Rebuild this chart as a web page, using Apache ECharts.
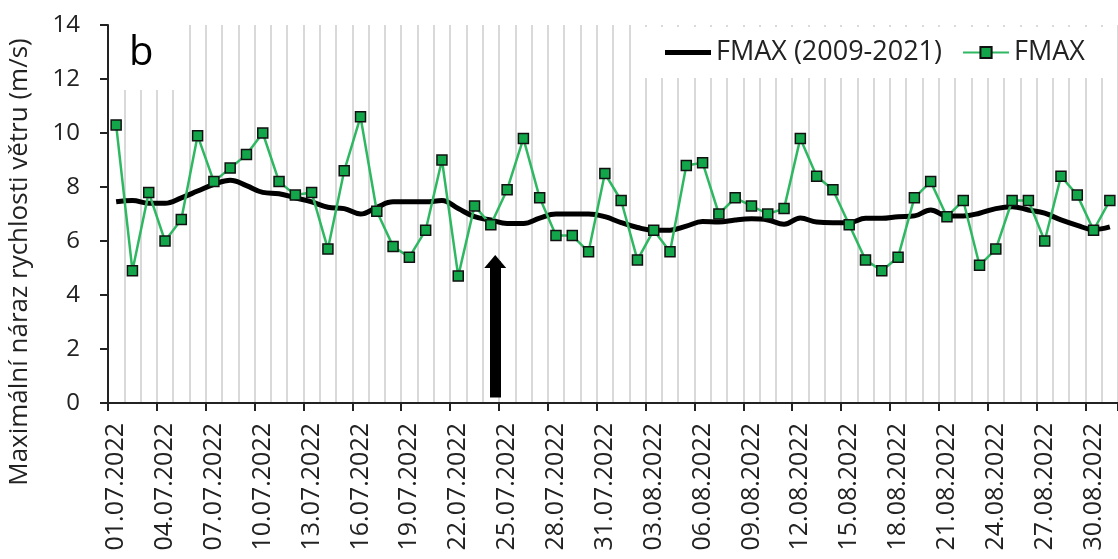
<!DOCTYPE html>
<html><head><meta charset="utf-8">
<script src="https://cdn.jsdelivr.net/npm/echarts@6/dist/echarts.min.js"></script>
<style>html,body{margin:0;padding:0;background:#fff}#c{width:1118px;height:559px}</style>
</head><body><div id="c"></div>
<script>
const categories = [
'01.07.2022','02.07.2022','03.07.2022','04.07.2022','05.07.2022','06.07.2022','07.07.2022','08.07.2022','09.07.2022','10.07.2022',
'11.07.2022','12.07.2022','13.07.2022','14.07.2022','15.07.2022','16.07.2022','17.07.2022','18.07.2022','19.07.2022','20.07.2022',
'21.07.2022','22.07.2022','23.07.2022','24.07.2022','25.07.2022','26.07.2022','27.07.2022','28.07.2022','29.07.2022','30.07.2022',
'31.07.2022','01.08.2022','02.08.2022','03.08.2022','04.08.2022','05.08.2022','06.08.2022','07.08.2022','08.08.2022','09.08.2022',
'10.08.2022','11.08.2022','12.08.2022','13.08.2022','14.08.2022','15.08.2022','16.08.2022','17.08.2022','18.08.2022','19.08.2022',
'20.08.2022','21.08.2022','22.08.2022','23.08.2022','24.08.2022','25.08.2022','26.08.2022','27.08.2022','28.08.2022','29.08.2022',
'30.08.2022','31.08.2022'];

// FMAX (2009-2021) long-term curve
const fmaxNormal = [
7.45,7.5,7.4,7.4,7.6,7.85,8.1,8.25,8.05,7.8,
7.75,7.6,7.45,7.25,7.2,7.0,7.25,7.45,7.45,7.45,
7.5,7.2,6.9,6.78,6.65,6.65,6.85,7.0,7.0,7.0,
6.9,6.68,6.5,6.4,6.4,6.55,6.72,6.7,6.78,6.82,
6.78,6.62,6.85,6.7,6.68,6.68,6.84,6.84,6.9,6.93,
7.15,6.93,6.93,7.03,7.2,7.27,7.15,7.03,6.78,6.58,
6.42,6.52];

// FMAX 2022
const fmax = [
10.3,4.9,7.8,6.0,6.8,9.9,8.2,8.7,9.2,10.0,
8.2,7.7,7.8,5.7,8.6,10.6,7.1,5.8,5.4,6.4,
9.0,4.7,7.3,6.6,7.9,9.8,7.6,6.2,6.2,5.6,
8.5,7.5,5.3,6.4,5.6,8.8,8.9,7.0,7.6,7.3,
7.0,7.2,9.8,8.4,7.9,6.6,5.3,4.9,5.4,7.6,
8.2,6.9,7.5,5.1,5.7,7.5,7.5,6.0,8.4,7.7,
6.4,7.5];

const yMin = 0, yMax = 14, yInterval = 2;
const seriesNames = ['FMAX (2009-2021)', 'FMAX'];
const yTitle = 'Maximální náraz rychlosti větru (m/s)';
const panelLabel = 'b';
// arrow annotation: position in day units along the axis, and its value range
const arrowDay = 23.77, arrowFrom = 0.2, arrowTo = 5.24;

const FONT = '"Open Sans", "Noto Sans", sans-serif';
const chart = echarts.init(document.getElementById('c'));
chart.setOption({
  animation: false,
  backgroundColor: '#fff',
  grid: { left: 108, top: 25, bottom: 156, width: 1021, containLabel: false },
  legend: {
    data: [
      { name: seriesNames[0], icon: 'path://M0,0 L46,0 L46,5 L0,5 Z' },
      { name: seriesNames[1] }
    ],
    left: 636, top: 27,
    padding: [12, 28, 12, 29],
    backgroundColor: '#fff',
    itemWidth: 46, itemHeight: 14, itemGap: 20,
    textStyle: { fontSize: 27, fontFamily: FONT, color: '#222' }
  },
  xAxis: [{
    type: 'category', data: categories, boundaryGap: true,
    axisLine: { lineStyle: { color: '#222', width: 2 } },
    axisTick: { show: true, interval: 2, alignWithLabel: false, length: 8, lineStyle: { color: '#222', width: 2 } },
    axisLabel: { interval: 2, rotate: 90, margin: 20, fontSize: 25, fontFamily: FONT, color: '#222' },
    splitLine: { show: true, interval: 0, lineStyle: { color: '#cccccc', width: 1.5 } }
  }, {
    type: 'value', min: 0, max: categories.length, show: false
  }],
  yAxis: {
    type: 'value', min: yMin, max: yMax, interval: yInterval,
    axisLine: { show: true, lineStyle: { color: '#222', width: 2 } },
    axisTick: { show: true, length: 8, lineStyle: { color: '#222', width: 2 } },
    axisLabel: { margin: 28, fontSize: 24, fontFamily: FONT, color: '#222' },
    splitLine: { show: false }
  },
  graphic: [
    { type: 'rect', z: 10, shape: { x: 110, y: 24, width: 73, height: 66 }, style: { fill: '#fff' } },
    { type: 'text', z: 11, x: 129, y: 54, style: { text: panelLabel, fontSize: 40, fontFamily: FONT, fill: '#000',
        align: 'left', verticalAlign: 'middle', textAlign: 'left', textVerticalAlign: 'middle' } },
    { type: 'text', z: 11, x: 20, y: 262, rotation: Math.PI / 2,
      style: { text: yTitle, fontSize: 26, fontFamily: FONT, fill: '#222',
        align: 'center', verticalAlign: 'middle', textAlign: 'center', textVerticalAlign: 'middle' } }
  ],
  series: [
    {
      name: seriesNames[0], type: 'line', data: fmaxNormal, smooth: 0.4,
      symbol: 'none', z: 3,
      lineStyle: { color: '#000', width: 5 },
      itemStyle: { color: '#000' }
    },
    {
      name: seriesNames[1], type: 'line', data: fmax, z: 4,
      symbol: 'rect', symbolSize: 10,
      lineStyle: { color: '#2fb862', width: 2.5 },
      itemStyle: { color: '#12a54a', borderColor: '#111', borderWidth: 1.5 }
    },
    {
      name: 'arrow', type: 'line', xAxisIndex: 1, data: [], z: 5,
      markLine: {
        silent: true, symbol: ['none', 'triangle'], symbolSize: [22, 13],
        label: { show: false },
        lineStyle: { color: '#000', width: 11, type: 'solid' },
        data: [[{ coord: [arrowDay, arrowFrom] }, { coord: [arrowDay, arrowTo] }]]
      }
    }
  ]
});
</script>
</body></html>
